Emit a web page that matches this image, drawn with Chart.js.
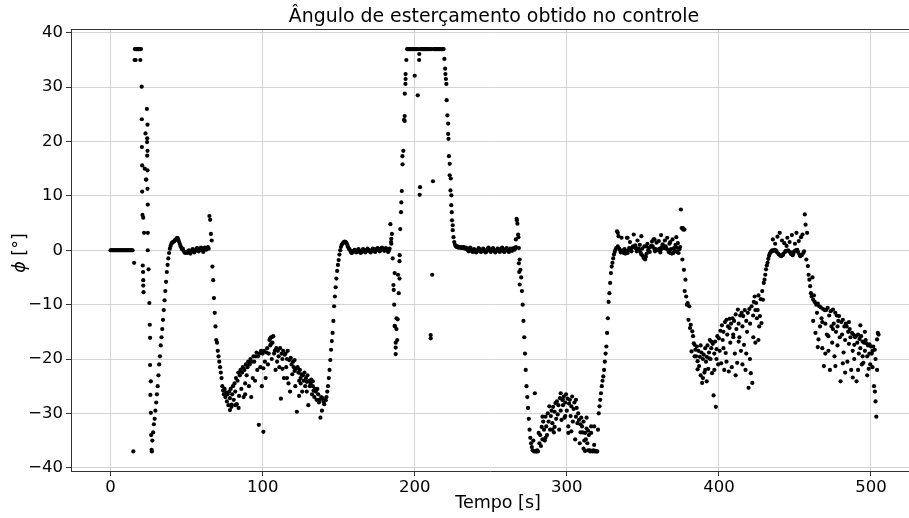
<!DOCTYPE html>
<html>
<head>
<meta charset="utf-8">
<script src="https://cdn.jsdelivr.net/npm/chart.js@4.4.1/dist/chart.umd.min.js"></script>
<style>
	html, body { margin: 0; padding: 0; background: #ffffff; }
	#graph_canvas { display: block; }
</style>
</head>
<body>
<canvas id="graph_canvas" width="909" height="518"></canvas>
<script>
(function () {
	'use strict';

	// amostragem do sinal (s)
	const dt = 0.5;

	// phi [graus], um valor a cada dt, por trecho de 100 s
	const inicioTrechos = [0, 100, 200, 300, 400, 500];
	const phiTrecho0 = [
		0,0,0,0,0,0,0,0,0,0, 0,0,0,0,0,0,0,0,0,0,
		0,0,0,0,0,0,0,0,0,0, -37,-2.3,37,35,37,37,37,37,37,37,
		37,30.1,6.5,-5.5,3.2,15,21.5,13,19.9,8.4, -3.5,-9.7,-16.1,-24.1,-36.7,-35,-33.5,-32,-31,-29.5,
		-28,-26.5,-25,-23,-21,-19.5,-17.5,-16,-14.5,-12.8, -11,-9.2,-7.5,-5.8,-4,-2.7,-1.5,-0.5,0.3,0.8,
		1.2,1.4,1.5,1.6,1.7,1.9,2,2.2,2.3,2.0, 1.6,1.2,0.8,0.5,0.2,0.3,-0.1,-0.3,-0.5,-0.4,
		-0.3,-0.5,-0.2,0,-0.4,-0.6,-0.3,0,0.2,-0.1, -0.4,-0.2,0.1,0.3,0.4,0.1,-0.2,0,0.3,0.5,
		0.3,0,-0.3,0.2,0.5,0.3,0.1,0.4,0.6,0.3, 6.3,5.6,3,1.8,-3,-5.5,-8.8,-11.5,-14,-16.5,
		-17,-18.5,-19.5,-20.5,-21.5,-22.5,-23.5,-25,-25.8,-26.5, -25.5,-27,-26.2,-27.8,-26.5,-28.5,-26,-27.2,-25.5,-28.8,
		-26.5,-25,-27.5,-24.5,-26,-23.5,-28.3,-24,-22.5,-26.8, -23,-22,-25.5,-22.5,-21.5,-27,-22,-24.5,-21,-23,
		-21.5,-20.5,-25,-21,-20,-27,-20.5,-23.5,-19.5,-20.5, -24,-19.5,-18.8,-22,-19.5,-32.1,-19,-21.5,-18.5,-25
	];
	const phiTrecho1 = [
		-19,-33.4,-18.5,-20.5,-23.5,-18.8,-18,-21,-19,-16.5, -17.5,-16,-20,-17,-15.8,-19,-18.5,-22,-18,-20.5,
		-18.5,-19.5,-21.5,-18,-27.3,-19,-20,-18.5,-23.5,-19.2, -19,-21.5,-20,-18.5,-24.5,-20.2,-26,-19.8,-21,-22.8,
		-20.5,-21.5,-20.2,-25,-21.8,-29.7,-21.5,-22.5,-24,-22, -23.5,-22.8,-26,-23,-24,-22.5,-25,-23.5,-24.2,-23,
		-28.5,-24,-25,-24.5,-23.8,-26.5,-25,-25.8,-27,-25.5, -26,-27.5,-25.5,-26.5,-28,-27.5,-30.8,-27,-29.5,-27.2,
		-27.8,-28.3,-27.5,-27.6,-27,-26,-25,-23.5,-22,-20.2, -18.3,-16.7,-15.2,-13,-10.3,-8.5,-6.8,-5.2,-3.8,-2.7,
		-1.8,-0.8,0,0.6,1,1.2,1.4,1.5,1.6,1.5, 1.4,1.1,0.7,0.4,0.2,0,-0.3,-0.5,-0.4,-0.2,
		-0.1,0.1,-0.2,-0.4,-0.3,0,0.2,-0.1,-0.3,-0.5, -0.3,0,0.2,0.1,-0.2,-0.4,-0.2,0.1,0.3,0.1,
		0,-0.2,-0.4,-0.2,0.1,0.3,0.2,-0.1,-0.3,-0.1, 0.2,0.4,0.3,0,-0.2,0,0.3,0.5,0.3,0.1,
		-0.1,0.2,0.4,0.2,0,-0.3,-0.1,0.3,4.8,1.5, 3,-1.5,-6.4,-10,-14,-19.1,-12.5,-16.5,-4.5,-7.9,
		-2,3.9,7,10.9,15.8,18.3,24,28.8,31.5,35, 37,37,37,37,37,37,37,37,37,37
	];
	const phiTrecho2 = [
		32.1,37,37,37,28.5,37,36.1,11.6,37,37, 37,37,37,37,37,37,37,37,37,37,
		37,-15.6,37,-4.5,12.7,37,37,37,37,37, 37,37,37,37,37,37,37,37,37,35.2,
		33.4,31.5,27.6,24.8,21.4,17.3,13.8,11,8.3,5.5, 3.7,2.4,1.5,1,0.8,0.6,0.7,0.5,0.6,0.5,
		0.5,0.6,0.4,0.5,0.6,0.5,0.3,0.5,0.4,0.2, 0,-0.2,0.3,0.5,0.2,-0.1,-0.3,-0.1,0.2,0,
		-0.3,-0.4,-0.2,0.1,0.4,0.2,-0.1,-0.3,-0.2,0, 0.3,0.1,-0.2,-0.4,-0.3,0,0.3,0.5,0.2,-0.1,
		-0.3,-0.1,0.2,0.4,0.1,-0.2,-0.4,-0.2,0.1,0.3, 0.2,-0.1,-0.3,0,0.3,0.5,0.2,-0.2,-0.3,0,
		0.2,0.4,0.1,-0.2,-0.3,0,0.3,0.2,-0.1,0.2, 0.4,0.1,0.3,0.6,5.8,4.9,2.9,0.4,-1.7,-3.6,
		-5,-7.5,-10,-13,-16,-19,-22,-25,-27,-29, -31,-33,-34.5,-35.5,-36.2,-36.8,-35,-37,-26.3,-37,
		-37,-36.8,-37,-33.6,-35.5,-34,-36,-32.5,-34.8,-31.5, -33,-35,-30.6,-32.4,-34,-30,-31.5,-28.7,-33,-30.5,
		-29.5,-31.8,-28.8,-33.5,-29.7,-28.1,-31,-27.8,-30.2,-28.5, -33,-27.2,-29.5,-31.2,-27.5,-28.5,-26.9,-30.8,-28,-26.5
	];
	const phiTrecho3 = [
		-29.5,-27.3,-33.6,-28.2,-27.5,-30.5,-28.7,-26.9,-31.5,-29.2, -28,-34.8,-30.6,-29,-31.8,-30,-31.2,-35.5,-32,-30.8,
		-32.4,-33.5,-31.5,-35,-33.6,-34.8,-32.8,-35.5,-36.8,-34, -36.8,-37,-33.6,-36.9,-37,-36.8,-32.4,-37,-36.9,-37,
		-37,-33,-30,-28.7,-27.5,-26.3,-25,-24,-23.2,-22, -20.5,-19,-17.7,-15.2,-12.5,-9.5,-7.9,-6,-4.2,-3,
		-2.3,-1.5,-0.8,-0.3,0.1,0.4,3.5,0.7,2.6,0.3, 0,-0.4,2.3,-0.3,0,-0.5,0.2,-0.6,-0.3,2.3,
		-0.5,0,0.4,1.5,0.2,-0.2,0.5,0.7,2.9,0.5, 0.9,0.4,-0.2,1.8,0.3,0.1,1,-0.4,-0.8,0.3,
		-1,-1.4,0.7,-1.7,-1.2,-0.6,1.2,0,0.4,-0.3, 0.6,0.8,1.6,0.7,2,0.3,-0.2,0.2,1.4,0,
		0.1,1.7,0.3,-0.4,0.2,0.6,1.1,0.7,0.4,1.8, 0.7,0.3,2.3,0.1,-0.3,1.2,-0.5,0.2,-0.6,2,
		-0.5,0.4,-0.2,1,0.5,-0.3,1.3,-0.5,0.2,0.6, 7.5,4.1,-1.7,3.8,-3.6,-7.5,-5.4,-8.5,-10,-9.7,
		-12.8,-10.3,-14.3,-13.7,-18.6,-14.9,-15.8,-17.1,-17.4,-18.3, -19.5,-17.7,-20.4,-18.5,-21.3,-19.6,-23,-18.8,-24.4,-20,
		-19.2,-22.5,-18,-20.5,-19.6,-17.5,-21.8,-18.8,-16.5,-20, -18,-22.6,-17.2,-26.7,-19,-16.8,-28.8,-18.2,-15.8,-21
	];
	const phiTrecho4 = [
		-16.2,-18.5,-14.8,-20.8,-13.8,-16.5,-15,-22,-13.2,-18.9, -12.8,-15.5,-14,-22.3,-12.6,-17,-13.5,-21.5,-12.5,-16,
		-13,-19,-11.8,-14.5,-20.7,-10.9,-13.5,-16,-12,-18.5, -11.5,-14,-12.1,-17.4,-11,-22,-13,-15,-11.5,-25.3,
		-10.8,-13.5,-22.6,-10.3,-24.4,-12,-9.5,-8.5,-17,-9.7, -12.5,-11,-8.3,-14,-12.1,-9,-13.4,-7.5,-9.1,-6,
		-5.4,-4.5,-3.5,-2.8,-2.3,-1.6,-1,-0.6,-0.4,-0.2, 0,2,-0.1,0.1,1.2,0,-0.3,2.5,-0.6,-0.8,
		3.2,-1,-1.1,1.8,-0.9,-0.6,1.3,-0.3,-0.1,0.8, 2.3,0,-0.2,1.5,-0.4,-0.7,2.8,-0.9,-0.6,-0.2,
		1.2,0,3.2,0.1,-0.3,1.7,-0.8,-1.1,2.4,-0.9, 2.9,-0.5,-0.2,6.6,4.7,-1.7,3.2,-2.9,-4.5,-5.4,
		-6.6,-7.9,-8.5,-5,-9.1,-8.3,-9.5,-15.2,-10,-11.5, -9.8,-16.4,-10.3,-14,-10.5,-12.5,-18,-10.8,-21.3,-11,
		-13.5,-11,-15.5,-10.6,-18.5,-12,-22,-11.2,-14,-17, -10.9,-13.5,-19.5,-11.5,-15,-12,-17.5,-13,-12.1,-16,
		-24.1,-13.2,-15.5,-12.8,-18.8,-14,-16.5,-13.5,-14,-20.5, -15,-17.2,-14.5,-16,-22,-15.2,-18.5,-15.5,-20,-16,
		-15.8,-24.1,-17,-15.5,-19,-16.3,-18,-15.8,-21,-16.8, -20.7,-17,-18.5,-16.5,-17.1,-19.5,-17.5,-21.8,-17.3,-21
	];
	const phiTrecho5 = [-17.7,-19,-18.5,-17.7,-25,-18.3,-27.8,-30.6,-16.4,-15.2,-15.5];

	// pontos espalhados a mais (instantes com varias leituras)
	const tempoExtra = [
		15.8,16.5,17.3,18.2,19.6,20.6,20.6,20.8,20.8,21.5,21.2,21.4,21.5,21.7,23.9,24.3,24.1,24.3,24.1,24.3,
		23.3,24.3,24.5,24.5,25.8,26,26.2,26.5,26.7,27.2,
		78.5,79.6,82,84.2,88.5,100.5,104.8,105.5,106,113,116,121,124,125,129,133,
		184.6,184.6,186.8,188.8,186.8,188,187.5,187.5,191.2,191.9,193.4,193.4,193.9,194,190.1,190,186.2,
		203.3,202.9,210.5,220.2,220.8,222,222.2,223,223.7,224.1,224.4,225,
		266.5,267.2,268.2,268.5,268.7,269,
		284,286,290.5,292,296,297.4,299,301,303,306,309,311,313,314,316,318,312,
		333.5,340,349,352.2,357.7,362,368,372,376.3,377.4,
		384,386,388,389.5,391,392,393.7,395,397,398.4,403,405,407,409.4,411,413,415.5,418,420.4,422.6,424,426,
		462,465,468,470,472,475,476.6,478,481.5,483,485.5,488,489,491.5,493,494.5,496,497.5,499,501,502.6,503,504
	];
	const phiExtra = [
		35,37,37,37,35,24.1,19,15.6,10.8,6,-2.8,-4,-6.5,-7.7,26,23.1,20.6,18.3,17.4,14.7,
		13,11.3,3.2,0,-13.7,-21.1,-26.6,-29.9,-34,-37,
		-29.4,-28.4,-28.5,-29,-26.5,-21.7,-16.3,-17.2,-16,-21.8,-23.5,-22.2,-26.8,-24.5,-26,-24.1,
		2.1,1.2,-4.2,-12.7,-13.9,-14.5,-17,-17.9,8.8,17.3,24.7,23.8,30.6,32.4,-0.9,-5.2,-7.3,
		10.2,35,-16.2,32.4,30.6,23.3,20.5,15.9,13.2,10.1,7,4.6,
		2.0,5.5,2.4,-2.4,-4,-6.3,
		-30.6,-34.5,-33,-32.5,-26.3,-27.5,-30.5,-32.4,-33.3,-27.5,-33.5,-36.5,-30.8,-33.2,-32.4,-35.8,-36.9,
		3.2,2.3,2.6,0.7,2,2.8,1.5,2.4,4.1,3.8,
		-19.5,-21.9,-17.5,-23.5,-22,-24.1,-19.9,-16.8,-22,-20,-18,-20.5,-14.3,-15.5,-23,-16.8,-21,-19,-20,-16,-11,-16.5,
		-13,-17.8,-13.2,-19,-15.8,-14.5,-21.3,-14,-20.8,-22.5,-13.2,-23.4,-17.4,-22,-13.8,-19.5,-15,-23,-19,-21.5,-26,-20,-22
	];

	const ticksX = [0, 100, 200, 300, 400, 500];
	const ticksY = [-40, -30, -20, -10, 0, 10, 20, 30, 40];

	const titulo = 'Ângulo de esterçamento obtido no controle';
	const rotuloX = 'Tempo [s]';
	const rotuloYsimbolo = 'ϕ';
	const rotuloYunidade = ' [°]';

	function montarPontos() {
		let pontos = [];
		const trechos = [phiTrecho0, phiTrecho1, phiTrecho2, phiTrecho3, phiTrecho4, phiTrecho5];
		trechos.forEach(function (valores, k) {
			valores.forEach(function (v, i) {
				pontos.push({ x: inicioTrechos[k] + i * dt, y: v });
			});
		});
		tempoExtra.forEach(function (t, i) {
			pontos.push({ x: t, y: phiExtra[i] });
		});
		return pontos;
	}

	const fonte = 'DejaVu Sans';

	// titulo, rotulos dos eixos e borda superior
	const molduraPlugin = {
		id: 'moldura',
		afterDraw: function (chart) {
			const ctx = chart.ctx;
			const area = chart.chartArea;
			ctx.save();
			ctx.strokeStyle = '#333333';
			ctx.lineWidth = 1;
			ctx.beginPath();
			ctx.moveTo(area.left, area.top + 0.5);
			ctx.lineTo(area.right, area.top + 0.5);
			ctx.stroke();

			ctx.fillStyle = '#000000';
			ctx.textAlign = 'center';
			ctx.textBaseline = 'middle';
			ctx.font = '18.9px "' + fonte + '"';
			ctx.fillText(titulo, 494, 17);

			ctx.font = '17.5px "' + fonte + '"';
			ctx.fillText(rotuloX, 498, 503);

			// rotulo y: simbolo em italico, unidade normal
			ctx.translate(20, 253);
			ctx.rotate(-Math.PI / 2);
			ctx.textAlign = 'left';
			const fonteItalica = 'italic 17.5px "' + fonte + '"';
			const fonteNormal = '17.5px "' + fonte + '"';
			ctx.font = fonteItalica;
			const w1 = ctx.measureText(rotuloYsimbolo).width;
			ctx.font = fonteNormal;
			const w2 = ctx.measureText(rotuloYunidade).width;
			const x0 = -(w1 + w2) / 2;
			ctx.font = fonteItalica;
			ctx.fillText(rotuloYsimbolo, x0, 0);
			ctx.font = fonteNormal;
			ctx.fillText(rotuloYunidade, x0 + w1, 0);
			ctx.restore();
		}
	};

	const ctx = document.getElementById('graph_canvas').getContext('2d');

	new Chart(ctx, {
		type: 'scatter',
		data: {
			datasets: [{
				label: 'phi',
				data: montarPontos(),
				backgroundColor: '#000000',
				borderWidth: 0,
				pointRadius: 2.1,
				pointHoverRadius: 2.1
			}]
		},
		options: {
			responsive: false,
			animation: false,
			devicePixelRatio: 1,
			layout: { autoPadding: false, padding: { top: 29, left: 0, right: 0, bottom: 0 } },
			plugins: {
				legend: { display: false },
				tooltip: { enabled: false },
				title: { display: false }
			},
			scales: {
				x: {
					type: 'linear',
					min: -26,
					max: 525,
					afterFit: function (scale) { scale.height = 47; },
					afterBuildTicks: function (scale) {
						scale.ticks = ticksX.map(function (v) { return { value: v }; });
					},
					border: { color: '#333333', width: 1 },
					grid: { color: '#d3d3d3', lineWidth: 1, tickColor: '#333333', tickLength: 5 },
					ticks: {
						color: '#000000',
						padding: 2,
						maxRotation: 0,
						font: { family: fonte, size: 16.5 }
					}
				},
				y: {
					type: 'linear',
					min: -40.6,
					max: 40.7,
					afterFit: function (scale) { scale.width = 71; },
					afterBuildTicks: function (scale) {
						scale.ticks = ticksY.map(function (v) { return { value: v }; });
					},
					border: { color: '#333333', width: 1 },
					grid: { color: '#d3d3d3', lineWidth: 1, tickColor: '#333333', tickLength: 5 },
					ticks: {
						color: '#000000',
						padding: 3,
						font: { family: fonte, size: 16.5 },
						callback: function (v) { return v < 0 ? '\u2212' + Math.abs(v) : String(v); }
					}
				}
			}
		},
		plugins: [molduraPlugin]
	});
})();
</script>
</body>
</html>
